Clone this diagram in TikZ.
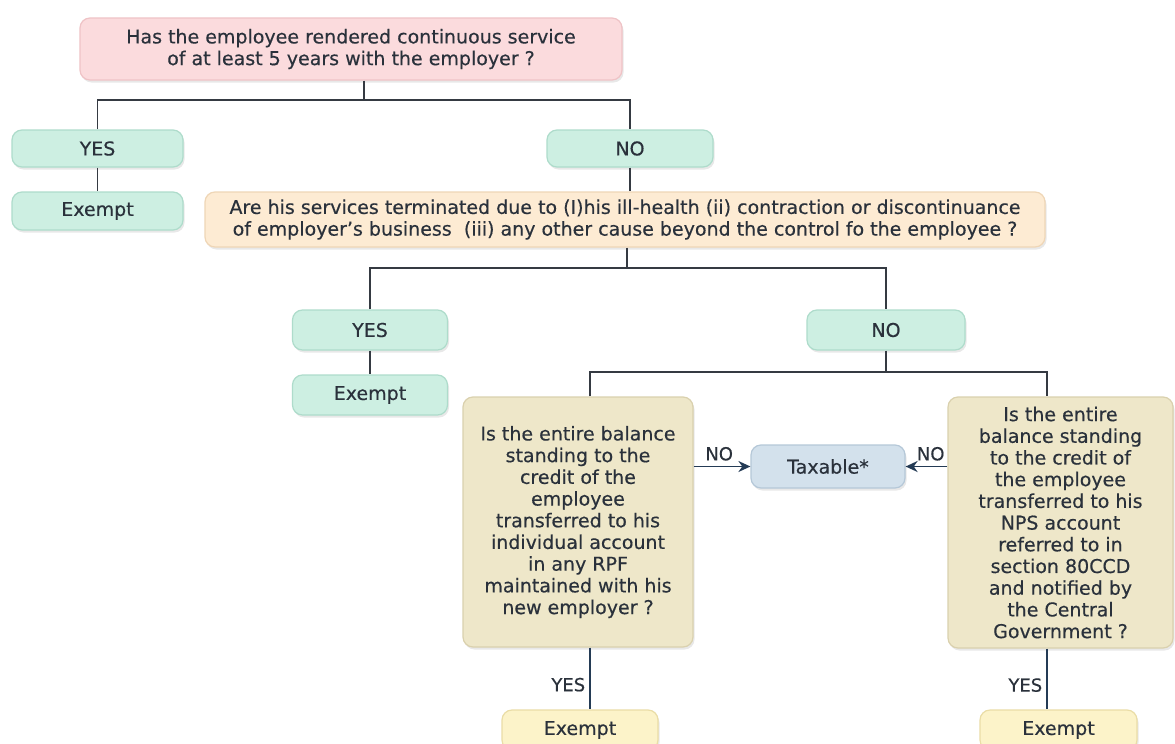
\documentclass[tikz,border=0pt]{standalone}
\usepackage{fontspec}
\setmainfont{DejaVu Sans}[FakeBold=0.4]
\usetikzlibrary{shadows,arrows.meta}
\definecolor{txt}{HTML}{2A313B}
\definecolor{lin}{HTML}{353A42}
\definecolor{arr}{HTML}{243B55}
\definecolor{pinkF}{HTML}{FBDBDD}\definecolor{pinkD}{HTML}{EFC3C6}
\definecolor{mintF}{HTML}{CDEFE2}\definecolor{mintD}{HTML}{AEDCCB}
\definecolor{peachF}{HTML}{FDEBD3}\definecolor{peachD}{HTML}{EFD6B6}
\definecolor{beigeF}{HTML}{EEE7C9}\definecolor{beigeD}{HTML}{DAD1AE}
\definecolor{blueF}{HTML}{D3E1EC}\definecolor{blueD}{HTML}{B5C8D8}
\definecolor{yelF}{HTML}{FCF3C9}\definecolor{yelD}{HTML}{EADDA6}
\tikzset{
  box/.style={rounded corners=10pt, line width=1.2pt, inner sep=0pt, align=center,
    text=txt, font=\fontsize{19}{21.7}\selectfont,
    drop shadow={opacity=0.18, shadow xshift=1.5pt, shadow yshift=-2.5pt}},
  pinkbox/.style={box, fill=pinkF, draw=pinkD},
  mintbox/.style={box, fill=mintF, draw=mintD},
  peachbox/.style={box, fill=peachF, draw=peachD},
  beigebox/.style={box, fill=beigeF, draw=beigeD},
  bluebox/.style={box, fill=blueF, draw=blueD},
  yelbox/.style={box, fill=yelF, draw=yelD},
  wh/.style n args={2}{minimum width=#1pt, minimum height=#2pt},
  conn/.style={draw=lin, line width=1.6pt},
  arrconn/.style={draw=arr, line width=1.8pt, -{Stealth[length=12pt,width=11pt]}},
  lab/.style={text=txt, font=\fontsize{18}{20}\selectfont, inner sep=0pt}
}
\begin{document}
\begin{tikzpicture}[x=1pt,y=-1pt]
\clip (0,0) rectangle (1175,744);
\fill[white] (0,0) rectangle (1175,744);

% top question
\node[pinkbox, wh={542}{62}] (q1) at (351,49)
  {Has the employee rendered continuous service\\of at least 5 years with the employer ?};
\node[mintbox, wh={171}{37}] (yes1) at (97.5,148.5) {YES};
\node[mintbox, wh={171}{38}] (ex1) at (97.5,211) {Exempt};
\node[mintbox, wh={166}{37}] (no1) at (630,148.5) {NO};

\node[peachbox, wh={840}{55}] (q2) at (625,219.5)
  {Are his services terminated due to (I)his ill-health (ii) contraction or discontinuance\\
   of employer's business\ \ (iii) any other cause beyond the control fo the employee ?};

\node[mintbox, wh={155}{40}] (yes2) at (370,330) {YES};
\node[mintbox, wh={155}{40}] (ex2) at (370,395) {Exempt};
\node[mintbox, wh={158}{40}] (no2) at (886,330) {NO};

\node[beigebox, wh={230}{250}] (q3) at (578,522)
  {Is the entire balance\\standing to the\\credit of the\\employee\\transferred to his\\individual account\\in any RPF\\maintained with his\\new employer ?};
\node[beigebox, wh={225}{251}] (q4) at (1060.5,522.5)
  {Is the entire\\balance standing\\to the credit of\\the employee\\transferred to his\\NPS account\\referred to in\\section 80CCD\\and notified by\\the Central\\Government ?};
\node[bluebox, wh={154}{43}] (tax) at (828,466.5) {Taxable*};

\node[yelbox, wh={156}{40}] (ex3) at (580,730) {Exempt};
\node[yelbox, wh={157}{40}] (ex4) at (1058.5,730) {Exempt};

% connectors
\coordinate (j1) at (364,100);
\draw[conn] (q1.south -| j1) -- (j1);
\draw[conn] (yes1.north) |- (j1) -| (no1.north);
\draw[conn] (yes1) -- (ex1);
\draw[conn] (no1.south) -- (no1.south |- q2.north);

\coordinate (j2) at (627,268);
\draw[conn] (q2.south -| j2) -- (j2);
\draw[conn] (yes2.north) |- (j2) -| (no2.north);
\draw[conn] (yes2) -- (ex2);

\coordinate (j3) at (886,372);
\draw[conn] (no2.south) -- (j3);
\coordinate (l3) at (590,372);
\coordinate (r3) at (1047,372);
\draw[conn] (l3 |- q3.north) -- (l3) -- (r3) -- (r3 |- q4.north);

\draw[arrconn] (q3.east |- tax.west) -- node[lab, above=5pt, pos=0.45] {NO} (tax.west);
\draw[arrconn] (q4.west |- tax.east) -- node[lab, above=5pt, pos=0.4] {NO} (tax.east);

\draw[draw=arr, line width=1.6pt] (q3.south -| l3) -- node[lab, left=4pt, pos=0.6] {YES} (l3 |- ex3.north);
\draw[draw=arr, line width=1.6pt] (q4.south -| r3) -- node[lab, left=4pt, pos=0.6] {YES} (r3 |- ex4.north);
\end{tikzpicture}
\end{document}
